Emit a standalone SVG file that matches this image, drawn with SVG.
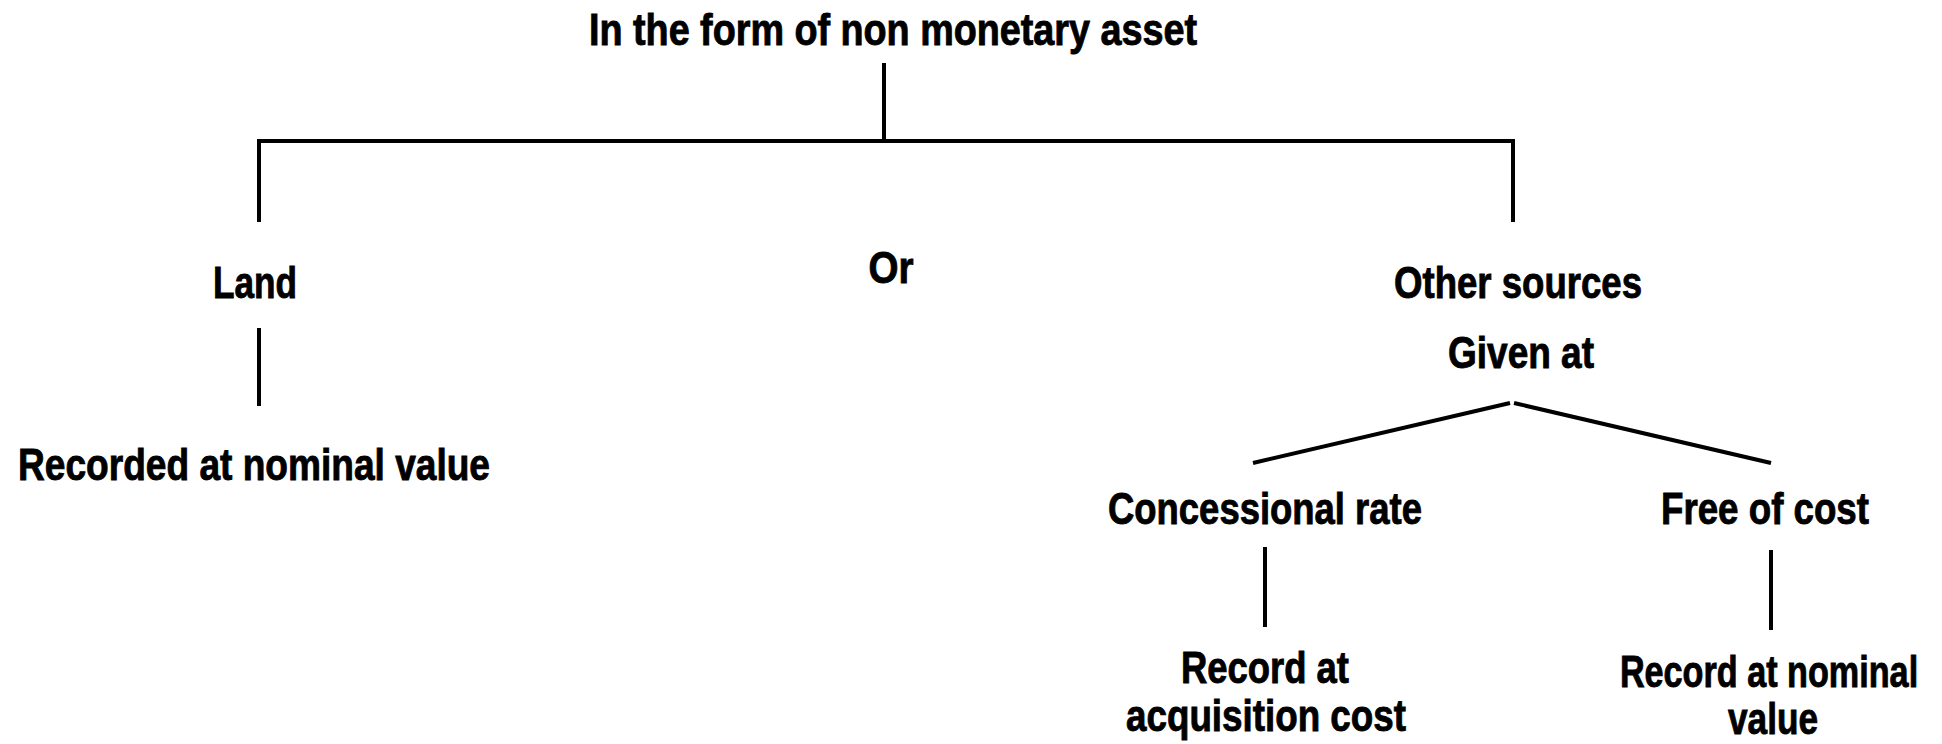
<svg xmlns="http://www.w3.org/2000/svg" width="1942" height="744" viewBox="0 0 1942 744">
  <style>
    .lbl { font-family: "Liberation Sans", Arial, sans-serif; font-weight: bold; font-size: 45px; fill: #000; stroke: #000; stroke-width: 0.9; text-anchor: middle; }
    .ln { stroke: #000; stroke-width: 4; fill: none; }
  </style>
  <rect width="1942" height="744" fill="#fff"/>

  <!-- tree connectors -->
  <g id="connectors">
    <line class="ln" x1="884" y1="63" x2="884" y2="141"/>
    <polyline class="ln" points="259,222 259,141 1513,141 1513,222"/>
    <line class="ln" x1="259" y1="328" x2="259" y2="406"/>
    <line class="ln" x1="1253" y1="463" x2="1510" y2="403"/>
    <line class="ln" x1="1514" y1="403" x2="1771" y2="463"/>
    <line class="ln" x1="1265" y1="547" x2="1265" y2="627"/>
    <line class="ln" x1="1771" y1="550" x2="1771" y2="630"/>
  </g>

  <g id="root"><text class="lbl" x="893" y="45" textLength="608" lengthAdjust="spacingAndGlyphs">In the form of non monetary asset</text></g>
  <g id="land"><text class="lbl" x="255" y="298" textLength="84" lengthAdjust="spacingAndGlyphs">Land</text></g>
  <g id="or"><text class="lbl" x="891" y="283" textLength="45" lengthAdjust="spacingAndGlyphs">Or</text></g>
  <g id="land-record"><text class="lbl" x="254" y="480" textLength="472" lengthAdjust="spacingAndGlyphs">Recorded at nominal value</text></g>
  <g id="other-sources">
    <text class="lbl" x="1518" y="298" textLength="248" lengthAdjust="spacingAndGlyphs">Other sources</text>
    <text class="lbl" x="1521" y="368" textLength="146" lengthAdjust="spacingAndGlyphs">Given at</text>
  </g>
  <g id="concessional"><text class="lbl" x="1265" y="524" textLength="314" lengthAdjust="spacingAndGlyphs">Concessional rate</text></g>
  <g id="free"><text class="lbl" x="1765" y="524" textLength="208" lengthAdjust="spacingAndGlyphs">Free of cost</text></g>
  <g id="acq-cost">
    <text class="lbl" x="1265" y="683" textLength="168" lengthAdjust="spacingAndGlyphs">Record at</text>
    <text class="lbl" x="1266" y="731" textLength="280" lengthAdjust="spacingAndGlyphs">acquisition cost</text>
  </g>
  <g id="nominal">
    <!-- condensed horizontally so the line fits against the right edge -->
    <text class="lbl" transform="translate(1769,687) scale(0.76,1)" x="0" y="0">Record at nominal</text>
    <text class="lbl" x="1773" y="734" textLength="90" lengthAdjust="spacingAndGlyphs">value</text>
  </g>
</svg>
